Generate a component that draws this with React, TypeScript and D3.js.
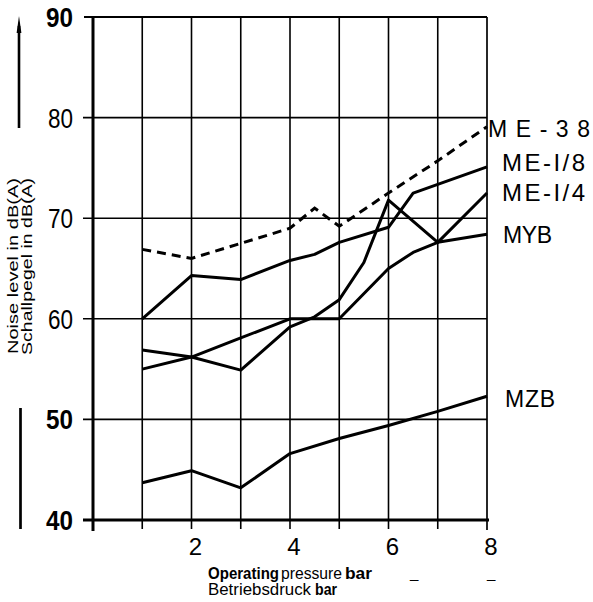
import React from "react";
import * as d3 from "d3";

// ---- data ----
const me38X = [1, 2, 3, 4, 4.5, 5, 6, 7, 8];
const me38Y = [66.9, 66.0, 67.5, 69.0, 71.0, 69.2, 72.5, 75.7, 79.1];

const meI8X = [1, 2, 3, 4, 4.5, 5, 6, 6.5, 8];
const meI8Y = [60.0, 64.3, 63.9, 65.8, 66.4, 67.6, 69.1, 72.5, 75.1];

const meI4X = [1, 2, 3, 4, 4.5, 5, 5.5, 6, 7, 8];
const meI4Y = [56.9, 56.2, 54.9, 59.2, 60.2, 61.9, 65.6, 71.8, 67.6, 72.5];

const mybX = [1, 2, 3, 4, 5, 6, 6.5, 7, 8];
const mybY = [55.0, 56.2, 58.1, 60.0, 60.0, 65.0, 66.6, 67.6, 68.4];

const mzbX = [1, 2, 3, 4, 5, 6, 7, 8];
const mzbY = [43.7, 44.9, 43.2, 46.6, 48.1, 49.4, 50.8, 52.3];

const xGrid = [1, 2, 3, 4, 5, 6, 7];
const xTickLabels = [2, 4, 6, 8];
const yGrid = [50, 60, 70, 80];
const yTickLabels = [90, 80, 70, 60, 50, 40];
const yBoldLabels = [90, 50, 40];

const seriesLabels = ["M E - 3 8", "ME-I/8", "ME-I/4", "MYB", "MZB"];

const zip = (xs: number[], ys: number[]) => xs.map((x, i) => [x, ys[i]] as [number, number]);

export default function App() {
  const x = d3.scaleLinear().domain([0, 8]).range([93, 487]);
  const y = d3.scaleLinear().domain([40, 90]).range([520, 17]);
  const line = d3
    .line<[number, number]>()
    .x((d) => x(d[0]))
    .y((d) => y(d[1]));

  const solid = [zip(meI8X, meI8Y), zip(meI4X, meI4Y), zip(mybX, mybY), zip(mzbX, mzbY)];
  const font = "'Liberation Sans', Arial, sans-serif";

  // label placement per series label (x, baseline, size, textLength)
  const labelPos: [number, number, number, number][] = [
    [488, 137, 23, 102],
    [502, 171, 24, 83],
    [502, 201, 24, 83],
    [503, 243, 23, 49],
    [505, 407, 23, 50],
  ];

  return (
    <svg
      width={593}
      height={602}
      style={{ position: "absolute", left: 0, top: 0, background: "#fff" }}
      fontFamily={font}
    >
      <rect x={0} y={0} width={593} height={602} fill="#fff" />
      {/* vertical grid lines */}
      {xGrid.map((v) => (
        <line key={"vx" + v} x1={x(v)} x2={x(v)} y1={y(90)} y2={529} stroke="#000" strokeWidth={1.6} />
      ))}
      {/* right border */}
      <line x1={x(8)} x2={x(8)} y1={y(90)} y2={530} stroke="#000" strokeWidth={1.7} />
      {/* horizontal grid lines */}
      {yGrid.map((v) => (
        <line key={"hy" + v} x1={83} x2={x(8)} y1={y(v)} y2={y(v)} stroke="#000" strokeWidth={1.6} />
      ))}
      <line x1={84} x2={x(8)} y1={y(90)} y2={y(90)} stroke="#000" strokeWidth={2} />
      {/* axes */}
      <line x1={83} x2={x(8) + 2} y1={y(40)} y2={y(40)} stroke="#000" strokeWidth={3} />
      <line x1={x(0)} x2={x(0)} y1={y(90)} y2={531} stroke="#000" strokeWidth={3} />

      {/* y tick labels */}
      {yTickLabels.map((v) => {
        const bold = yBoldLabels.includes(v);
        const len = bold ? 27 : 25;
        return (
          <text
            key={"yl" + v}
            x={73 - len}
            y={y(v) + 10}
            fontSize={28}
            fontWeight={bold ? "bold" : "normal"}
            textLength={len}
            lengthAdjust="spacingAndGlyphs"
            fill="#000"
          >
            {v}
          </text>
        );
      })}

      {/* x tick labels */}
      {xTickLabels.map((v) => (
        <text key={"xl" + v} x={x(v) + 4} y={555} fontSize={24} textAnchor="middle" fill="#000">
          {v}
        </text>
      ))}

      {/* series */}
      <path d={line(zip(me38X, me38Y)) || ""} fill="none" stroke="#000" strokeWidth={3} strokeDasharray="9 6" />
      {solid.map((s, i) => (
        <path key={"s" + i} d={line(s) || ""} fill="none" stroke="#000" strokeWidth={3} strokeLinejoin="round" />
      ))}

      {/* series labels */}
      {seriesLabels.map((t, i) => {
        const [lx, ly, fs, tl] = labelPos[i];
        return (
          <text key={"lab" + i} x={lx} y={ly} fontSize={fs} textLength={tl} lengthAdjust="spacing" fill="#000">
            {t}
          </text>
        );
      })}

      {/* y axis title */}
      <text
        transform="translate(18,354) rotate(-90)"
        fontSize={14}
        textLength={176}
        lengthAdjust="spacingAndGlyphs"
        fill="#000"
      >
        Noise level in dB(A)
      </text>
      <text
        transform="translate(32,355) rotate(-90)"
        fontSize={14}
        textLength={177}
        lengthAdjust="spacingAndGlyphs"
        fill="#000"
      >
        Schallpegel in dB(A)
      </text>
      {/* arrow and bar */}
      <line x1={19} x2={19} y1={128} y2={26} stroke="#000" strokeWidth={2.6} />
      <polygon points="19,16 16.6,33 21.4,33" fill="#000" />
      <line x1={20.5} x2={20.5} y1={408} y2={529} stroke="#000" strokeWidth={2.7} />

      {/* x axis title */}
      <text x={208} y={579} fontSize={16} fontWeight="bold" textLength={71} lengthAdjust="spacingAndGlyphs" fill="#000">
        Operating
      </text>
      <text x={281} y={579} fontSize={16} textLength={61} lengthAdjust="spacingAndGlyphs" fill="#000">
        pressure
      </text>
      <text x={345} y={579} fontSize={16} fontWeight="bold" textLength={27} lengthAdjust="spacingAndGlyphs" fill="#000">
        bar
      </text>
      <text x={208} y={595} fontSize={16} textLength={103} lengthAdjust="spacingAndGlyphs" fill="#000">
        Betriebsdruck
      </text>
      <text x={315} y={595} fontSize={16} fontWeight="bold" textLength={22} lengthAdjust="spacingAndGlyphs" fill="#000">
        bar
      </text>
      <text x={410} y={578} fontSize={15} fill="#000">_</text>
      <text x={487} y={578} fontSize={15} fill="#000">_</text>
    </svg>
  );
}
